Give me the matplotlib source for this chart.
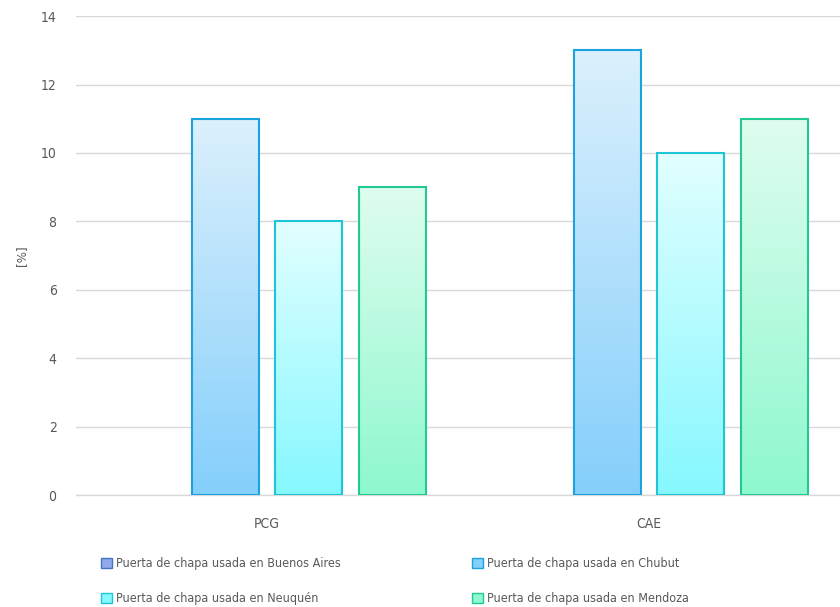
import matplotlib.pyplot as plt
import matplotlib
import numpy as np
from matplotlib.colors import LinearSegmentedColormap
from matplotlib.patches import Patch

matplotlib.rcParams['font.family'] = ['DejaVu Sans']
matplotlib.rcParams['font.stretch'] = 'condensed'

categories = ["PCG", "CAE"]
series = [
    "Puerta de chapa usada en Buenos Aires",
    "Puerta de chapa usada en Chubut",
    "Puerta de chapa usada en Neuquén",
    "Puerta de chapa usada en Mendoza",
]
values = [
    [0, 0],    # Buenos Aires
    [11, 13],  # Chubut
    [8, 10],   # Neuquén
    [9, 11],   # Mendoza
]
y_ticks = [0, 2, 4, 6, 8, 10, 12, 14]

# (edge, top colour, bottom colour)
styles = [
    ("#4472C4", "#DDE6FA", "#8FA9EC"),
    ("#1AA3DE", "#DCF0FD", "#84CFFB"),
    ("#1CC6D6", "#E2FFFF", "#86F8FF"),
    ("#22C994", "#DFFDEF", "#8EF8CF"),
]

fig = plt.figure(figsize=(8.4, 6.07), dpi=100)
ax = fig.add_axes([0.0905, 0.1845, 0.9095, 0.789])

x = np.arange(len(categories))
slot = 0.2186
width = 0.175

for i, (name, vals) in enumerate(zip(series, values)):
    edge, top, bottom = styles[i]
    cmap = LinearSegmentedColormap.from_list(f"g{i}", [bottom, top])
    pos = x + (i - 1.5) * slot
    bars = ax.bar(pos, vals, width, facecolor="none", edgecolor=edge,
                  linewidth=1.5, zorder=3)
    for bar in bars:
        h = bar.get_height()
        if h <= 0:
            bar.set_visible(False)
            continue
        x0 = bar.get_x()
        grad = np.linspace(0, 1, 256).reshape(-1, 1)
        im = ax.imshow(grad, cmap=cmap, origin="lower", aspect="auto",
                       extent=[x0, x0 + bar.get_width(), 0, h], zorder=2)
        im.set_clip_path(bar)

ax.set_xlim(-0.5, 1.5)
ax.set_ylim(0, 14)
ax.set_xticks(x)
ax.set_xticklabels(categories)
ax.set_yticks(y_ticks)
ax.tick_params(axis='both', length=0, colors="#595959", labelsize=10)
ax.tick_params(axis='x', pad=16)
ax.tick_params(axis='y', pad=14)
ax.grid(axis='y', color="#D9D9D9", linewidth=1, zorder=0)
ax.set_axisbelow(True)
for s in ["top", "right", "left"]:
    ax.spines[s].set_visible(False)
ax.spines["bottom"].set_color("#D9D9D9")
ax.spines["bottom"].set_linewidth(1)
ax.set_ylabel("[%]", color="#595959", fontsize=9.5, labelpad=9)

handles = [Patch(facecolor=s[2], edgecolor=s[0], linewidth=1) for s in styles]
order = [0, 2, 1, 3]
leg = fig.legend([handles[k] for k in order], [series[k] for k in order],
                 loc="lower left", bbox_to_anchor=(0.107, -0.015), ncol=2,
                 frameon=False, fontsize=9, handlelength=0.85, handleheight=0.85,
                 handletextpad=0.35, columnspacing=10.5, labelspacing=1.75)
for t in leg.get_texts():
    t.set_color("#595959")

plt.savefig("out.png", dpi=100)
plt.close()
